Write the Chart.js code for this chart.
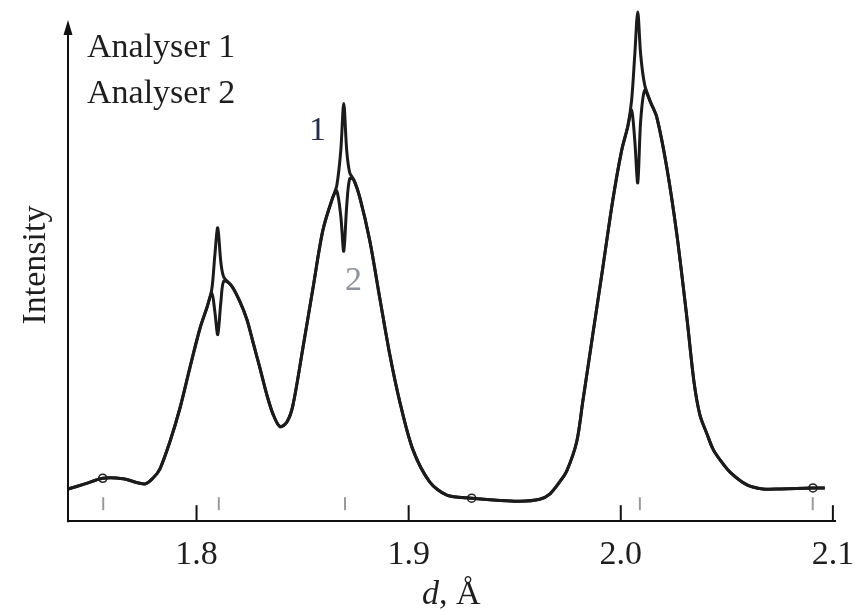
<!DOCTYPE html>
<html>
<head>
<meta charset="utf-8">
<script src="https://cdn.jsdelivr.net/npm/chart.js@4.4.1/dist/chart.umd.min.js"></script>
<style>
  html, body { margin: 0; padding: 0; background: #ffffff; }
  #wrap { width: 861px; height: 611px; }
</style>
</head>
<body>
<div id="wrap"><canvas id="c" width="861" height="611"></canvas></div>
<script>
// d-spacing (Å)
const dValues = [1.7394, 1.7474, 1.7558, 1.7653, 1.7756, 1.7794, 1.7827, 1.7874, 1.7921, 1.7968,
  1.8016, 1.8049, 1.8072, 1.8086, 1.8100, 1.8115, 1.8129, 1.8166, 1.8204, 1.8237,
  1.8265, 1.8298, 1.8331, 1.8360, 1.8393, 1.8426, 1.8454, 1.8501, 1.8549, 1.8595,
  1.8642, 1.8661, 1.8680, 1.8694, 1.8708, 1.8722, 1.8741, 1.8770, 1.8817, 1.8864,
  1.8911, 1.8958, 1.9019, 1.9099, 1.9180, 1.9297, 1.9415, 1.9524, 1.9618, 1.9665,
  1.9712, 1.9745, 1.9792, 1.9821, 1.9868, 1.9915, 1.9962, 2.0004, 2.0033, 2.0051,
  2.0066, 2.0080, 2.0094, 2.0113, 2.0141, 2.0170, 2.0217, 2.0264, 2.0312, 2.0345,
  2.0373, 2.0406, 2.0435, 2.0468, 2.0515, 2.0595, 2.0670, 2.0750, 2.0906, 2.0962];
// Analyser 1 intensity (narrow peaks on top)
const analyser1 = [6.3, 7.3, 8.4, 8.3, 7.3, 8.4, 10.2, 15.5, 22.0, 29.9,
  37.7, 41.8, 45.4, 51.9, 57.4, 50.5, 47.7, 46.0, 43.0, 39.5,
  35.2, 30.1, 24.8, 21.0, 18.5, 19.4, 22.6, 33.8, 45.6, 56.8,
  63.3, 65.6, 72.5, 81.7, 72.5, 68.2, 66.8, 63.3, 54.8, 43.6,
  32.6, 23.4, 14.1, 7.7, 5.1, 4.5, 4.1, 3.9, 4.3, 5.3,
  7.7, 9.8, 15.5, 23.4, 36.5, 49.5, 62.7, 72.5, 77.2, 82.3,
  91.2, 99.6, 91.2, 85.3, 81.9, 79.0, 69.2, 56.2, 39.7, 27.3,
  20.8, 17.1, 14.1, 12.0, 9.6, 7.1, 6.3, 6.3, 6.5, 6.5];
// Analyser 2 intensity (narrow dips)
const analyser2 = [6.3, 7.3, 8.4, 8.3, 7.3, 8.4, 10.2, 15.5, 22.0, 29.9,
  37.7, 41.8, 44.6, 41.1, 36.5, 43.0, 47.0, 46.0, 43.0, 39.5,
  35.2, 30.1, 24.8, 21.0, 18.5, 19.4, 22.6, 33.8, 45.6, 56.8,
  63.3, 64.6, 59.7, 52.8, 61.7, 67.0, 66.8, 63.3, 54.8, 43.6,
  32.6, 23.4, 14.1, 7.7, 5.1, 4.5, 4.1, 3.9, 4.3, 5.3,
  7.7, 9.8, 15.5, 23.4, 36.5, 49.5, 62.7, 72.5, 77.2, 80.4,
  74.5, 66.2, 78.4, 84.3, 81.9, 79.0, 69.2, 56.2, 39.7, 27.3,
  20.8, 17.1, 14.1, 12.0, 9.6, 7.1, 6.3, 6.3, 6.5, 6.5];
// open-circle markers on the curve
const markerD = [1.7558, 1.9297, 2.0906];
const markerI = [8.4, 4.5, 6.5];
// short grey reference marks
const refD = [1.756, 1.8105, 1.870, 2.009, 2.0905];
// x tick values / labels
const tickValues = [1.8, 1.9, 2.0, 2.1];
const tickLabels = ['1.8', '1.9', '2.0', '2.1'];

const FONT = '"Liberation Serif", "Times New Roman", serif';
const INK = '#1e1e1e';

const decor = {
  id: 'decor',
  afterDraw(chart) {
    const ctx = chart.ctx;
    const xs = chart.scales.x;
    const a = chart.chartArea;
    ctx.save();
    // y axis with arrow
    ctx.strokeStyle = '#111';
    ctx.lineWidth = 2;
    ctx.beginPath();
    ctx.moveTo(a.left, a.bottom + 1);
    ctx.lineTo(a.left, a.top + 20);
    ctx.stroke();
    ctx.fillStyle = '#111';
    ctx.beginPath();
    ctx.moveTo(a.left, a.top + 10);
    ctx.lineTo(a.left - 4.5, a.top + 25);
    ctx.lineTo(a.left + 4.5, a.top + 25);
    ctx.closePath();
    ctx.fill();
    // inward major ticks
    ctx.lineWidth = 2;
    tickValues.forEach(v => {
      const x = xs.getPixelForValue(v);
      ctx.beginPath();
      ctx.moveTo(x, a.bottom);
      ctx.lineTo(x, a.bottom - 16);
      ctx.stroke();
    });
    // grey reference marks
    ctx.strokeStyle = '#9a9a9a';
    ctx.lineWidth = 2;
    refD.forEach(v => {
      const x = xs.getPixelForValue(v);
      ctx.beginPath();
      ctx.moveTo(x, a.bottom - 24);
      ctx.lineTo(x, a.bottom - 11);
      ctx.stroke();
    });
    // texts
    ctx.fillStyle = INK;
    ctx.font = '34px ' + FONT;
    ctx.textBaseline = 'alphabetic';
    ctx.textAlign = 'left';
    ctx.fillText('Analyser 1', 87, 57);
    ctx.fillText('Analyser 2', 87, 103);
    ctx.textAlign = 'center';
    ctx.fillStyle = '#22304a';
    ctx.fillText('1', 317.5, 140);
    ctx.fillStyle = '#8e949c';
    ctx.fillText('2', 353.5, 290);
    // y title
    ctx.fillStyle = INK;
    ctx.save();
    ctx.translate(45, 265);
    ctx.rotate(-Math.PI / 2);
    ctx.textAlign = 'center';
    ctx.fillText('Intensity', 0, 0);
    ctx.restore();
    // x title: italic d, then ", Å"
    ctx.textAlign = 'left';
    ctx.font = 'italic 34px ' + FONT;
    const wD = ctx.measureText('d').width;
    ctx.fillText('d', 422, 604);
    ctx.font = '34px ' + FONT;
    ctx.fillText(', Å', 422 + wD, 604);
    ctx.restore();
  }
};

new Chart(document.getElementById('c'), {
  type: 'line',
  data: {
    datasets: [
      {
        label: 'Analyser 1',
        data: dValues.map((d, i) => ({ x: d, y: analyser1[i] })),
        borderColor: '#1b1b1b',
        borderWidth: 3,
        pointRadius: 0,
        tension: 0.3,
        fill: false,
        clip: false
      },
      {
        label: 'Analyser 2',
        data: dValues.map((d, i) => ({ x: d, y: analyser2[i] })),
        borderColor: '#1b1b1b',
        borderWidth: 3,
        pointRadius: 0,
        tension: 0.3,
        fill: false,
        clip: false
      },
      {
        type: 'scatter',
        label: 'markers',
        data: markerD.map((d, i) => ({ x: d, y: markerI[i] })),
        showLine: false,
        pointRadius: 4,
        pointBackgroundColor: '#ffffff',
        pointBorderColor: '#222',
        pointBorderWidth: 1.6,
        clip: false
      }
    ]
  },
  options: {
    responsive: false,
    animation: false,
    devicePixelRatio: 1,
    layout: { padding: { top: 10, left: 68, right: 26, bottom: 23 } },
    plugins: { legend: { display: false }, tooltip: { enabled: false } },
    scales: {
      x: {
        type: 'linear',
        min: 1.7394,
        max: 2.101,
        grid: { display: false, drawTicks: false },
        border: { display: true, color: '#111', width: 2 },
        afterBuildTicks: (axis) => { axis.ticks = tickValues.map(v => ({ value: v })); },
        afterFit: (axis) => { axis.paddingRight = 0; axis.paddingLeft = 0; },
        ticks: {
          autoSkip: false,
          maxRotation: 0,
          padding: 13,
          color: INK,
          font: { family: FONT, size: 34 },
          callback: (v) => tickLabels[tickValues.indexOf(v)] ?? ''
        }
      },
      y: { display: false, min: 0, max: 100 }
    }
  },
  plugins: [decor]
});
</script>
</body>
</html>
